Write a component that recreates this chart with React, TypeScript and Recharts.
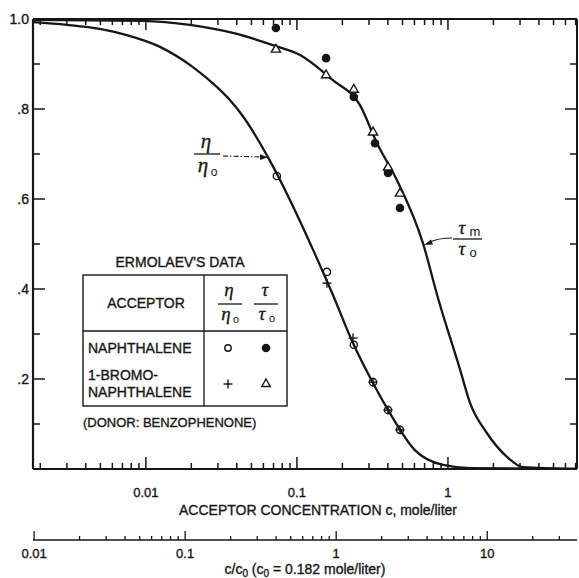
import React from 'react';
import { ComposedChart, Line, Scatter, XAxis, YAxis } from 'recharts';

// ---- curves ----
const etaCurveC = [0.00179, 0.003, 0.00496, 0.00748, 0.0124, 0.0205, 0.0295, 0.036, 0.0439, 0.0643, 0.0899, 0.128, 0.171, 0.235, 0.319, 0.413, 0.604, 0.927, 1.4, 7.15];
const etaCurveV = [0.993, 0.987, 0.978, 0.964, 0.938, 0.893, 0.849, 0.82, 0.784, 0.693, 0.598, 0.487, 0.391, 0.28, 0.191, 0.124, 0.042, 0.009, 0.002, 0];
const tauCurveC = [0.00179, 0.00955, 0.0196, 0.0377, 0.0693, 0.105, 0.173, 0.261, 0.339, 0.459, 0.683, 0.859, 1.2, 1.4, 1.81, 2.46, 3.14, 7.15];
const tauCurveV = [0.998, 0.996, 0.987, 0.969, 0.942, 0.92, 0.864, 0.809, 0.724, 0.642, 0.502, 0.38, 0.222, 0.147, 0.08, 0.027, 0.004, 0];

// ---- Ermolaev's data points ----
const naphEtaC = [0.0737, 0.158, 0.238, 0.319, 0.401, 0.481];
const naphEtaV = [0.651, 0.438, 0.276, 0.193, 0.131, 0.087];
const bromoEtaC = [0.158, 0.235, 0.319, 0.401, 0.481];
const bromoEtaV = [0.413, 0.291, 0.193, 0.131, 0.087];
const naphTauC = [0.0726, 0.156, 0.238, 0.329, 0.401, 0.481];
const naphTauV = [0.98, 0.913, 0.827, 0.724, 0.658, 0.58];
const bromoTauC = [0.0726, 0.156, 0.238, 0.319, 0.401, 0.481];
const bromoTauV = [0.933, 0.876, 0.844, 0.749, 0.671, 0.613];

// ---- ticks ----
const cTicks = [0.002, 0.003, 0.004, 0.005, 0.006, 0.007, 0.008, 0.009, 0.01, 0.02, 0.03, 0.04, 0.05, 0.06, 0.07, 0.08, 0.09, 0.1, 0.2, 0.3, 0.4, 0.5, 0.6, 0.7, 0.8, 0.9, 1, 2, 3, 4, 5, 6, 7];
const cTickLabels: Record<string, string> = { '0.01': '0.01', '0.1': '0.1', '1': '1' };
const ratioTicks = [0.01, 0.02, 0.03, 0.04, 0.05, 0.06, 0.07, 0.08, 0.09, 0.1, 0.2, 0.3, 0.4, 0.5, 0.6, 0.7, 0.8, 0.9, 1, 2, 3, 4, 5, 6, 7, 8, 9, 10, 20, 30];
const ratioTickLabels: Record<string, string> = { '0.01': '0.01', '0.1': '0.1', '1': '1', '10': '10' };
const yTicks = [0.1, 0.2, 0.3, 0.4, 0.5, 0.6, 0.7, 0.8, 0.9, 1.0];
const yTickLabels: Record<string, string> = { '0.2': '.2', '0.4': '.4', '0.6': '.6', '0.8': '.8', '1': '1.0' };

const C0 = 0.182;
const cDomain = [0.00179, 7.15];
const ratioDomain = [cDomain[0] / C0, cDomain[1] / C0];

const zip = (cs: number[], vs: number[]) => cs.map((c, i) => ({ c, v: vs[i] }));
const etaCurve = zip(etaCurveC, etaCurveV);
const tauCurve = zip(tauCurveC, tauCurveV);
const naphEta = zip(naphEtaC, naphEtaV);
const bromoEta = zip(bromoEtaC, bromoEtaV);
const naphTau = zip(naphTauC, naphTauV);
const bromoTau = zip(bromoTauC, bromoTauV);
// invisible anchors so the secondary axes (top, right, c/c0) get their scales
const ratioAnchor = ratioDomain.map((r) => ({ c: r, v: 0 }));
const frameAnchor = cDomain.map((c, i) => ({ c, v: i }));

const INK = '#161616';
const FONT = '"Liberation Sans", Arial, sans-serif';
const SERIF = '"Liberation Serif", "DejaVu Serif", serif';
const TXT = { fill: INK, stroke: INK, strokeWidth: 0.35, fontFamily: FONT } as const;

const BottomTick = (p: any) => {
  const { x, y, payload } = p;
  const lab = cTickLabels[String(payload.value)];
  const len = lab ? 12 : 6;
  return (
    <g>
      <line x1={x} x2={x} y1={y} y2={y - len} stroke={INK} strokeWidth={1.5} />
      {lab && (
        <text x={x} y={y + 28} textAnchor="middle" fontSize={13} {...TXT}>{lab}</text>
      )}
    </g>
  );
};
const TopTick = (p: any) => {
  const { x, y, payload } = p;
  const lab = cTickLabels[String(payload.value)];
  const len = lab ? 11 : 6;
  return <line x1={x} x2={x} y1={y} y2={y + len} stroke={INK} strokeWidth={1.5} />;
};
const RatioTick = (p: any) => {
  const { x, y, payload } = p;
  const lab = ratioTickLabels[String(payload.value)];
  const len = lab ? 9 : 4;
  return (
    <g>
      <line x1={x} x2={x} y1={y} y2={y - len} stroke={INK} strokeWidth={1.3} />
      {lab && (
        <text x={x} y={y + 18} textAnchor="middle" fontSize={13} {...TXT}>{lab}</text>
      )}
    </g>
  );
};
const LeftTick = (p: any) => {
  const { x, y, payload } = p;
  const lab = yTickLabels[String(payload.value)];
  const len = lab ? 12 : 7;
  return (
    <g>
      <line x1={x} x2={x + len} y1={y} y2={y} stroke={INK} strokeWidth={1.5} />
      {lab && (
        <text x={x - 4} y={y + 5} textAnchor="end" fontSize={14} {...TXT}>{lab}</text>
      )}
    </g>
  );
};
const RightTick = (p: any) => {
  const { x, y, payload } = p;
  const lab = yTickLabels[String(payload.value)];
  const len = lab ? 12 : 7;
  return <line x1={x} x2={x - len} y1={y} y2={y} stroke={INK} strokeWidth={1.5} />;
};

const OpenCircle = (p: any) => <circle cx={p.cx} cy={p.cy} r={3.6} fill="none" stroke={INK} strokeWidth={1.4} />;
const FilledCircle = (p: any) => <circle cx={p.cx} cy={p.cy} r={4.3} fill={INK} />;
const Plus = (p: any) => (
  <g stroke={INK} strokeWidth={1.4}>
    <line x1={p.cx - 4.5} x2={p.cx + 4.5} y1={p.cy} y2={p.cy} />
    <line x1={p.cx} x2={p.cx} y1={p.cy - 4.5} y2={p.cy + 4.5} />
  </g>
);
const Triangle = (p: any) => (
  <path d={`M${p.cx},${p.cy - 4.8} L${p.cx + 4.6},${p.cy + 3} L${p.cx - 4.6},${p.cy + 3} Z`} fill="#fff" stroke={INK} strokeWidth={1.4} />
);

const mainTitle = (p: any) => {
  const vb = p.viewBox || { x: 33, y: 469, width: 544 };
  return (
    <text x={vb.x + 285} y={vb.y + 46} textAnchor="middle" fontSize={14} {...TXT}>
      ACCEPTOR CONCENTRATION c, mole/liter
    </text>
  );
};
const ratioTitle = (p: any) => {
  const vb = p.viewBox || { x: 33, y: 540, width: 544 };
  return (
    <text x={vb.x + 272} y={vb.y + 34} textAnchor="middle" fontSize={14} {...TXT}>
      c/c<tspan dy={3} fontSize={10}>0</tspan>
      <tspan dy={-3}>{'  (c'}</tspan>
      <tspan dy={3} fontSize={10}>0</tspan>
      <tspan dy={-3}>{' = 0.182 mole/liter)'}</tspan>
    </text>
  );
};

const Overlay = () => (
  <svg width={579} height={578} style={{ position: 'absolute', left: 0, top: 0, pointerEvents: 'none' }}>
    <g fill={INK} fontFamily={FONT}>
      {/* eta / eta0 annotation */}
      <text x={206} y={148} fontSize={21} fontStyle="italic" fontFamily={SERIF} textAnchor="middle" stroke={INK} strokeWidth={0.3}>η</text>
      <line x1={194} x2={220} y1={154} y2={154} stroke={INK} strokeWidth={1.3} />
      <text x={203} y={172} fontSize={21} fontStyle="italic" fontFamily={SERIF} textAnchor="middle" stroke={INK} strokeWidth={0.3}>η</text>
      <text x={214} y={176} fontSize={12} textAnchor="middle">o</text>
      <path d="M223,156 L262,157" stroke={INK} strokeWidth={1.1} strokeDasharray="5 2 1.5 2" fill="none" />
      <path d="M268,157.2 L260,154.2 L260,160 Z" fill={INK} />

      {/* tau_m / tau0 annotation */}
      <text x={462} y={234} fontSize={19} fontStyle="italic" fontFamily={SERIF} textAnchor="middle" stroke={INK} strokeWidth={0.3}>τ</text>
      <text x={475} y={236} fontSize={13} textAnchor="middle">m</text>
      <line x1={453} x2={482} y1={239} y2={239} stroke={INK} strokeWidth={1.3} />
      <text x={462} y={255} fontSize={19} fontStyle="italic" fontFamily={SERIF} textAnchor="middle" stroke={INK} strokeWidth={0.3}>τ</text>
      <text x={473} y={257} fontSize={13} textAnchor="middle">o</text>
      <path d="M452,238 Q438,238 429,242.5" stroke={INK} strokeWidth={1.1} fill="none" />
      <path d="M424,245 L431,239.5 L433,244.5 Z" fill={INK} />

      {/* table */}
      <g stroke={INK} strokeWidth={0.35}>
        <text x={180} y={267} fontSize={14} textAnchor="middle">ERMOLAEV'S DATA</text>
        <text x={146} y={308} fontSize={14} textAnchor="middle">ACCEPTOR</text>
        <text x={88} y={353} fontSize={14}>NAPHTHALENE</text>
        <text x={88} y={380} fontSize={14}>1-BROMO-</text>
        <text x={88} y={397} fontSize={14}>NAPHTHALENE</text>
        <text x={83} y={427} fontSize={13}>(DONOR: BENZOPHENONE)</text>
      </g>
      <rect x={83} y={275} width={204} height={131} fill="none" stroke={INK} strokeWidth={1.4} />
      <line x1={204} x2={204} y1={275} y2={406} stroke={INK} strokeWidth={1.3} />
      <line x1={83} x2={287} y1={331} y2={331} stroke={INK} strokeWidth={1.3} />

      <text x={229} y={296} fontSize={19} fontStyle="italic" fontFamily={SERIF} textAnchor="middle" stroke={INK} strokeWidth={0.3}>η</text>
      <line x1={218} x2={242} y1={304} y2={304} stroke={INK} strokeWidth={1.3} />
      <text x={226} y={320} fontSize={19} fontStyle="italic" fontFamily={SERIF} textAnchor="middle" stroke={INK} strokeWidth={0.3}>η</text>
      <text x={236} y={323} fontSize={11} textAnchor="middle">o</text>

      <text x={265} y={296} fontSize={19} fontStyle="italic" fontFamily={SERIF} textAnchor="middle" stroke={INK} strokeWidth={0.3}>τ</text>
      <line x1={254} x2={278} y1={304} y2={304} stroke={INK} strokeWidth={1.3} />
      <text x={262} y={320} fontSize={19} fontStyle="italic" fontFamily={SERIF} textAnchor="middle" stroke={INK} strokeWidth={0.3}>τ</text>
      <text x={272} y={322} fontSize={11} textAnchor="middle">o</text>

      <circle cx={228} cy={348} r={3.2} fill="none" stroke={INK} strokeWidth={1.4} />
      <circle cx={266} cy={348} r={4.3} fill={INK} />

      <line x1={223.5} x2={232.5} y1={384} y2={384} stroke={INK} strokeWidth={1.4} />
      <line x1={228} x2={228} y1={379.5} y2={388.5} stroke={INK} strokeWidth={1.4} />
      <path d="M266,379 L270.2,386.5 L261.8,386.5 Z" fill="none" stroke={INK} strokeWidth={1.4} />
    </g>
  </svg>
);

export default function App() {
  return (
    <div style={{ position: 'absolute', left: 0, top: 0, width: 579, height: 578, background: '#fff' }}>
      <ComposedChart width={579} height={578} margin={{ top: 0, right: 0, bottom: 0, left: 0 }}>
        <XAxis
          xAxisId="main"
          dataKey="c"
          type="number"
          scale="log"
          domain={cDomain}
          allowDataOverflow
          ticks={cTicks}
          interval={0}
          tick={BottomTick}
          tickLine={false}
          tickSize={0}
          tickMargin={0}
          height={71}
          axisLine={{ stroke: INK, strokeWidth: 1.8 }}
          label={mainTitle}
        />
        <XAxis
          xAxisId="ratio"
          dataKey="c"
          type="number"
          scale="log"
          domain={ratioDomain}
          allowDataOverflow
          ticks={ratioTicks}
          interval={0}
          tick={RatioTick}
          tickLine={false}
          tickSize={0}
          tickMargin={0}
          height={38}
          axisLine={{ stroke: INK, strokeWidth: 1.4 }}
          label={ratioTitle}
        />
        <XAxis
          xAxisId="top"
          dataKey="c"
          orientation="top"
          type="number"
          scale="log"
          domain={cDomain}
          allowDataOverflow
          ticks={cTicks}
          interval={0}
          tick={TopTick}
          tickLine={false}
          tickSize={0}
          tickMargin={0}
          height={19}
          axisLine={{ stroke: INK, strokeWidth: 1.8 }}
        />
        <YAxis
          yAxisId="left"
          type="number"
          domain={[0, 1]}
          allowDataOverflow
          ticks={yTicks}
          interval={0}
          tick={LeftTick}
          tickLine={false}
          tickSize={0}
          tickMargin={0}
          width={33}
          axisLine={{ stroke: INK, strokeWidth: 2.2 }}
        />
        <YAxis
          yAxisId="right"
          orientation="right"
          type="number"
          domain={[0, 1]}
          allowDataOverflow
          ticks={yTicks}
          interval={0}
          tick={RightTick}
          tickLine={false}
          tickSize={0}
          tickMargin={0}
          width={2}
          axisLine={{ stroke: INK, strokeWidth: 2 }}
        />
        <Line xAxisId="top" yAxisId="right" data={frameAnchor} dataKey="v" stroke="none" strokeOpacity={0} dot={false} activeDot={false} legendType="none" isAnimationActive={false} />
        <Line xAxisId="ratio" yAxisId="right" data={ratioAnchor} dataKey="v" stroke="none" strokeOpacity={0} dot={false} activeDot={false} legendType="none" isAnimationActive={false} />
        <Line xAxisId="main" yAxisId="left" data={etaCurve} dataKey="v" type="monotone" stroke={INK} strokeWidth={2.3} dot={false} isAnimationActive={false} />
        <Line xAxisId="main" yAxisId="left" data={tauCurve} dataKey="v" type="monotone" stroke={INK} strokeWidth={2.3} dot={false} isAnimationActive={false} />
        <Scatter xAxisId="main" yAxisId="left" data={naphEta} dataKey="v" shape={OpenCircle} isAnimationActive={false} />
        <Scatter xAxisId="main" yAxisId="left" data={bromoEta} dataKey="v" shape={Plus} isAnimationActive={false} />
        <Scatter xAxisId="main" yAxisId="left" data={naphTau} dataKey="v" shape={FilledCircle} isAnimationActive={false} />
        <Scatter xAxisId="main" yAxisId="left" data={bromoTau} dataKey="v" shape={Triangle} isAnimationActive={false} />
      </ComposedChart>
      <Overlay />
    </div>
  );
}
